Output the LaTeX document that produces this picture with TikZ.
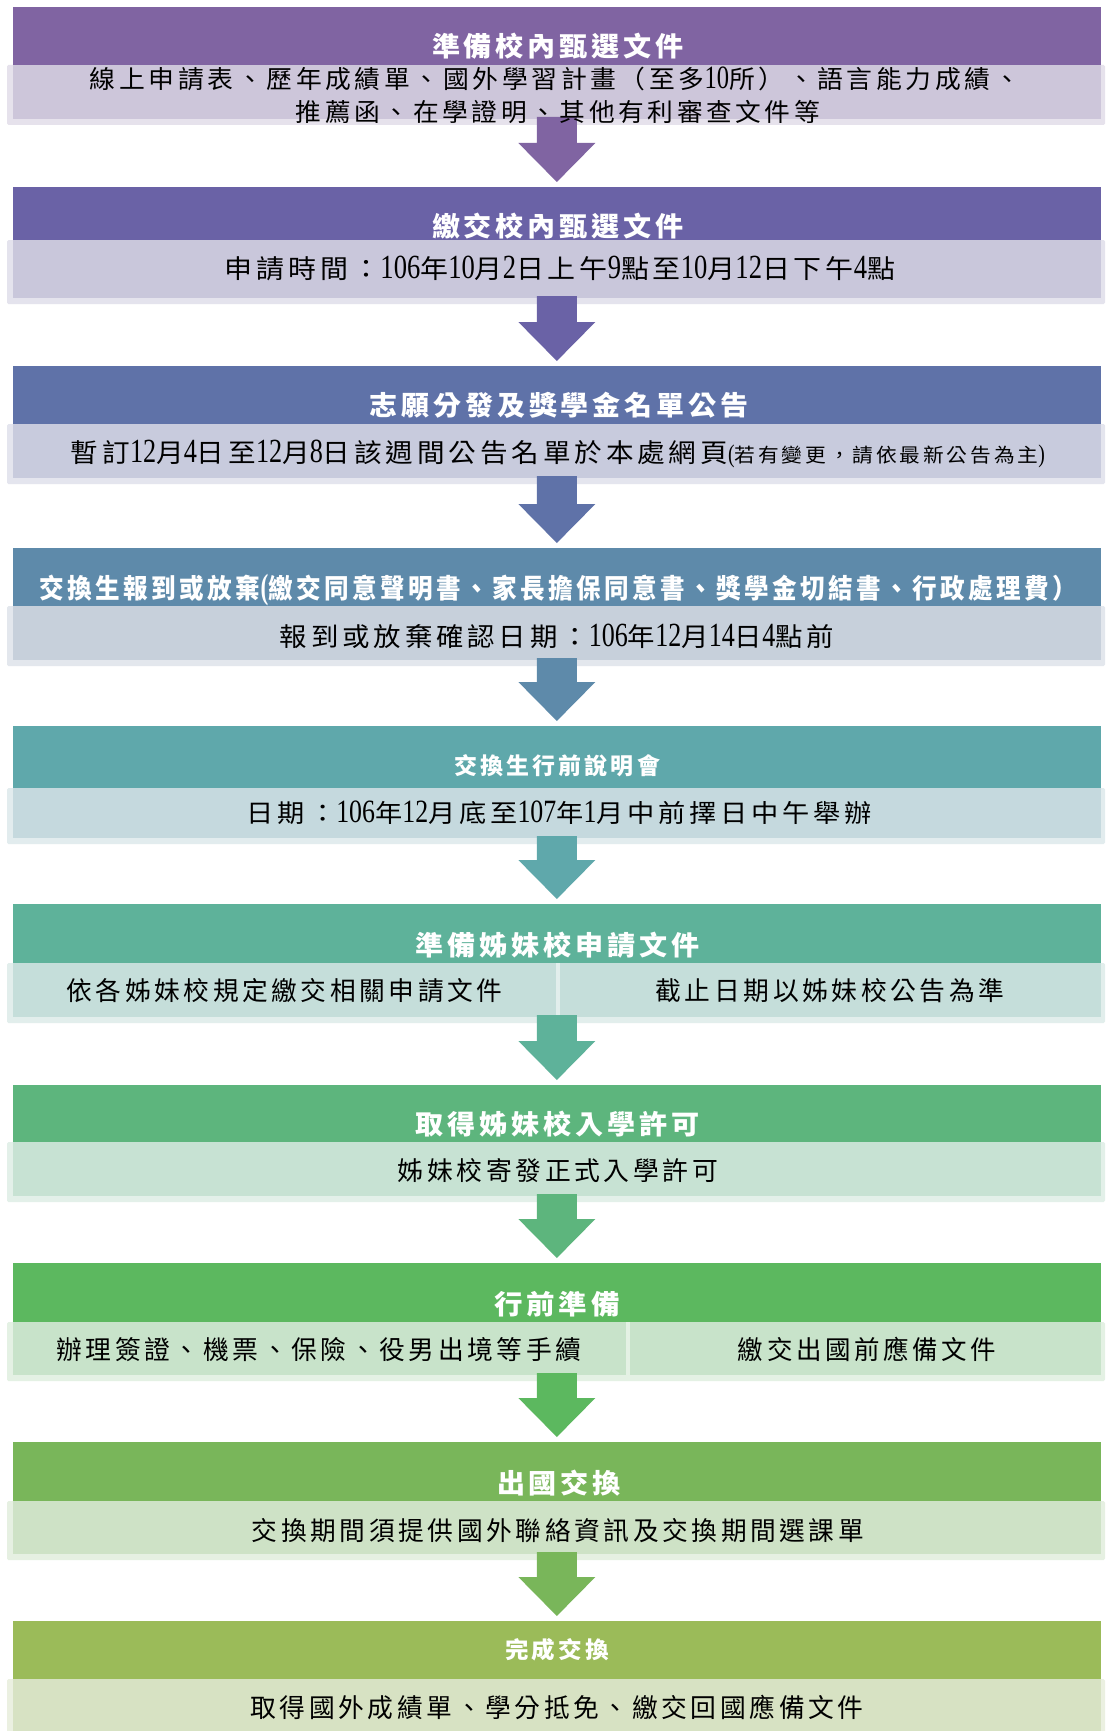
\documentclass[tikz,border=0pt]{standalone}
\usepackage{fontspec}
\usepackage{graphicx}
\setmainfont{Noto Sans CJK TC}[LetterSpace=14]
\newfontfamily\tm{Liberation Serif}
\newcommand\nm[1]{\scalebox{0.95}[1.3]{\tm #1}}
\usetikzlibrary{calc}
\definecolor{r1h}{HTML}{8064A2}\definecolor{r1s}{HTML}{CDC6DA}
\definecolor{r2h}{HTML}{6A62A6}\definecolor{r2s}{HTML}{C9C7DB}
\definecolor{r3h}{HTML}{5F72A8}\definecolor{r3s}{HTML}{C8CBDD}
\definecolor{r4h}{HTML}{5E8AAA}\definecolor{r4s}{HTML}{C7D0DB}
\definecolor{r5h}{HTML}{5FA8AB}\definecolor{r5s}{HTML}{C5D9DE}
\definecolor{r6h}{HTML}{5EB29A}\definecolor{r6s}{HTML}{C5DEDA}
\definecolor{r7h}{HTML}{5DB57D}\definecolor{r7s}{HTML}{C7E2D3}
\definecolor{r8h}{HTML}{5CB85F}\definecolor{r8s}{HTML}{C8E3CA}
\definecolor{r9h}{HTML}{79B65A}\definecolor{r9s}{HTML}{CEE2C6}
\definecolor{r10h}{HTML}{9BBB59}\definecolor{r10s}{HTML}{D7E2C3}
\newcommand\fitl[3]{\resizebox*{#1pt}{#2pt}{\raisebox{0pt}[0.88em][0.12em]{#3}}}
\tikzset{
  box/.style={rectangle, draw=none, inner sep=0pt, outer sep=0pt, minimum width=1088.3pt, anchor=north west},
  htxt/.style={inner sep=0pt, outer sep=0pt, text=white, font=\fontsize{20}{24}\selectfont\bfseries},
  stxt/.style={inner sep=0pt, outer sep=0pt, text=black, font=\fontsize{20}{24}\selectfont},
  shade/.style={fill=#1!50!white, rounded corners=1.5pt},
}
% id, top, header height, sub height
\newcommand\mkshadow[4]{\fill[shade=r#1s] (7,#2+#3) rectangle (1105,#2+#3+#4+6);}
\newcommand\mkrow[4]{%
  \mkshadow{#1}{#2}{#3}{#4}
  \node[box, fill=r#1h, minimum height=#3pt] (h#1) at (12.7,#2) {};
  \node[box, fill=r#1s, minimum height=#4pt] (s#1) at (h#1.south west) {};
}
% colour, from node, to node
\newcommand\mkarrow[3]{%
  \path (#2.south -| #3.north) coordinate (ta-#3) (#3.north) coordinate (tb-#3);
  \fill[#1] ($(ta-#3)+(-20,-2)$) -- ($(tb-#3)+(-20,-44)$) -- ($(tb-#3)+(-38.5,-44)$)
    -- ($(tb-#3)+(0,-5)$) -- ($(tb-#3)+(38.5,-44)$) -- ($(tb-#3)+(20,-44)$)
    -- ($(ta-#3)+(20,-2)$) -- cycle;
}
\begin{document}
\begin{tikzpicture}[x=1pt, y=-1pt]
\useasboundingbox[fill=white] (0,0) rectangle (1105,1731);
% rows
\mkrow{1}{7}{58}{54}
\mkrow{2}{187}{53}{58}
\mkrow{3}{366}{58}{54}
\mkrow{4}{548}{58}{54}
\mkrow{5}{726}{62}{50}
\mkshadow{6}{904}{59}{54}
\node[box, fill=r6h, minimum height=59pt] (h6) at (12.7,904) {};
\node[box, fill=r6s, minimum width=542.8pt, minimum height=54pt] (s6a) at (h6.south west) {};
\node[box, fill=r6s, minimum width=541.5pt, minimum height=54pt] (s6b) at (559.5,963) {};
\mkrow{7}{1085}{57}{54}
\mkshadow{8}{1263}{59}{53}
\node[box, fill=r8h, minimum height=59pt] (h8) at (12.7,1263) {};
\node[box, fill=r8s, minimum width=613.3pt, minimum height=53pt] (s8a) at (h8.south west) {};
\node[box, fill=r8s, minimum width=471pt, minimum height=53pt] (s8b) at (630,1322) {};
\mkrow{9}{1442}{59}{53}
\mkrow{10}{1621}{58}{60}
% arrows
\mkarrow{r1h}{s1}{h2}
\mkarrow{r2h}{s2}{h3}
\mkarrow{r3h}{s3}{h4}
\mkarrow{r4h}{s4}{h5}
\mkarrow{r5h}{s5}{h6}
\mkarrow{r6h}{s6a}{h7}
\mkarrow{r7h}{s7}{h8}
\mkarrow{r8h}{s8a}{h9}
\mkarrow{r9h}{s9}{h10}
% texts
\node[htxt] (ht1) at (558,46) {\fitl{252}{27}{準備校內甄選文件}};
\node[stxt] (st1a) at (555,79) {\fitl{930}{25}{線上申請表、歷年成績單、國外學習計畫（至多\nm{10}所）、語言能力成績、}};
\node[stxt] (st1b) at (558,112) {\fitl{524}{25}{推薦函、在學證明、其他有利審查文件等}};
\node[htxt] (ht2) at (558,226.5) {\fitl{252}{27}{繳交校內甄選文件}};
\node[stxt] (st2) at (560,268.5) {\fitl{670}{26}{申請時間：\nm{106}年\nm{10}月\nm{2}日上午\nm{9}點至\nm{10}月\nm{12}日下午\nm{4}點}};
\node[htxt] (ht3) at (559,405.5) {\fitl{379}{27}{志願分發及獎學金名單公告}};
\node[stxt] (st3) at (558,453) {\fitl{974}{26}{暫訂\nm{12}月\nm{4}日至\nm{12}月\nm{8}日該週間公告名單於本處網頁{\fontsize{15}{18}\selectfont\nm{(}若有變更，請依最新公告為主\nm{)}}}};
\node[htxt] (ht4) at (558.5,588) {\fitl{1037}{27}{交換生報到或放棄\nm{(}繳交同意聲明書、家長擔保同意書、獎學金切結書、行政處理費）}};
\node[stxt] (st4) at (557,637) {\fitl{554}{26}{報到或放棄確認日期：\nm{106}年\nm{12}月\nm{14}日\nm{4}點前}};
\node[htxt] (ht5) at (557,765.5) {\fitl{206}{23}{交換生行前說明會}};
\node[stxt] (st5) at (559.5,813) {\fitl{625}{25}{日期：\nm{106}年\nm{12}月底至\nm{107}年\nm{1}月中前擇日中午舉辦}};
\node[htxt] (ht6) at (557.5,945) {\fitl{284}{27}{準備姊妹校申請文件}};
\node[stxt] (st6a) at (284.5,991) {\fitl{436}{26}{依各姊妹校規定繳交相關申請文件}};
\node[stxt] (st6b) at (830,991) {\fitl{349}{26}{截止日期以姊妹校公告為準}};
\node[htxt] (ht7) at (557.5,1124) {\fitl{284}{27}{取得姊妹校入學許可}};
\node[stxt] (st7) at (558,1171) {\fitl{320}{26}{姊妹校寄發正式入學許可}};
\node[htxt] (ht8) at (557,1304) {\fitl{126}{27}{行前準備}};
\node[stxt] (st8a) at (319,1350) {\fitl{525}{26}{辦理簽證、機票、保險、役男出境等手續}};
\node[stxt] (st8b) at (867,1350) {\fitl{258}{26}{繳交出國前應備文件}};
\node[htxt] (ht9) at (559,1483) {\fitl{124}{27}{出國交換}};
\node[stxt] (st9) at (558,1531) {\fitl{612}{26}{交換期間須提供國外聯絡資訊及交換期間選課單}};
\node[htxt] (ht10) at (557,1650) {\fitl{104}{23}{完成交換}};
\node[stxt] (st10) at (557,1708) {\fitl{613}{26}{取得國外成績單、學分抵免、繳交回國應備文件}};
\end{tikzpicture}
\end{document}
